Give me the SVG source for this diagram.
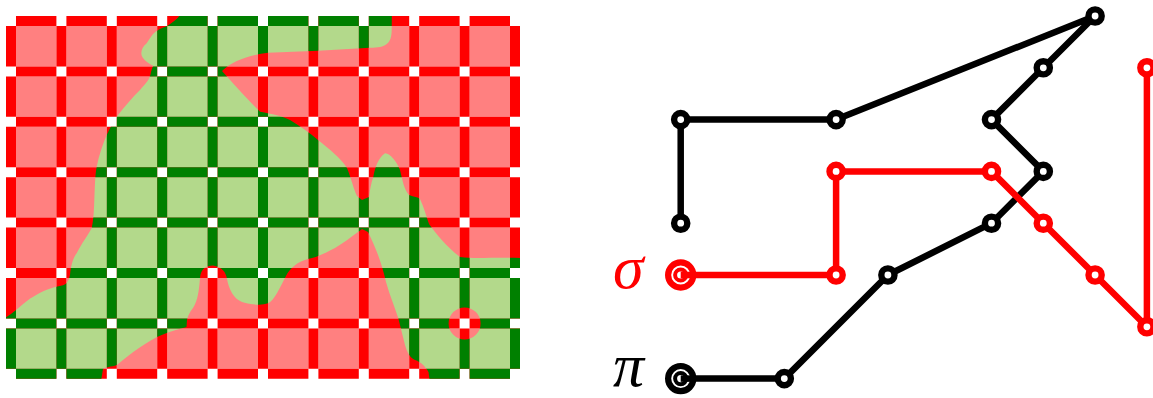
<svg xmlns="http://www.w3.org/2000/svg" xmlns:xlink="http://www.w3.org/1999/xlink" width="1153" height="398" viewBox="0 0 1153 398">
<style>
.f{fill:none;stroke:var(--f);stroke-width:40.4;stroke-dasharray:40.4 10}
.b{fill:none;stroke:var(--b);stroke-width:10;stroke-dasharray:40.4 10}
#redgrid{--f:#ff8080;--b:#ff0000}
#greengrid{--f:#b3d98b;--b:#008000}
.pi{fill:none;stroke:#000;stroke-width:6.5;stroke-linejoin:round}
.sg{fill:none;stroke:#ff0000;stroke-width:6.5;stroke-linejoin:round}
.vk{fill:#fff;stroke:#000;stroke-width:6.4}
.vr{fill:#fff;stroke:#ff0000;stroke-width:6.4}
.ok{fill:#fff;stroke:#000;stroke-width:6.2}
.or{fill:#fff;stroke:#ff0000;stroke-width:6.2}
.ik{fill:none;stroke:#000;stroke-width:4}
.ir{fill:none;stroke:#ff0000;stroke-width:4}
.lbl{font-family:"Liberation Serif","DejaVu Serif",serif;font-style:italic;font-size:62px}
</style>
<defs>
<g id="grid">
<line class="f" x1="16" x2="510" y1="46.2" y2="46.2"/>
<line class="f" x1="16" x2="510" y1="96.6" y2="96.6"/>
<line class="f" x1="16" x2="510" y1="147" y2="147"/>
<line class="f" x1="16" x2="510" y1="197.4" y2="197.4"/>
<line class="f" x1="16" x2="510" y1="247.8" y2="247.8"/>
<line class="f" x1="16" x2="510" y1="298.2" y2="298.2"/>
<line class="f" x1="16" x2="510" y1="348.6" y2="348.6"/>
<line class="b" x1="16" x2="510" y1="21" y2="21"/>
<line class="b" x1="16" x2="510" y1="71.4" y2="71.4"/>
<line class="b" x1="16" x2="510" y1="121.8" y2="121.8"/>
<line class="b" x1="16" x2="510" y1="172.2" y2="172.2"/>
<line class="b" x1="16" x2="510" y1="222.6" y2="222.6"/>
<line class="b" x1="16" x2="510" y1="273" y2="273"/>
<line class="b" x1="16" x2="510" y1="323.4" y2="323.4"/>
<line class="b" x1="16" x2="510" y1="373.8" y2="373.8"/>
<line class="b" y1="26" y2="368.8" x1="11" x2="11"/>
<line class="b" y1="26" y2="368.8" x1="61.4" x2="61.4"/>
<line class="b" y1="26" y2="368.8" x1="111.8" x2="111.8"/>
<line class="b" y1="26" y2="368.8" x1="162.2" x2="162.2"/>
<line class="b" y1="26" y2="368.8" x1="212.6" x2="212.6"/>
<line class="b" y1="26" y2="368.8" x1="263" x2="263"/>
<line class="b" y1="26" y2="368.8" x1="313.4" x2="313.4"/>
<line class="b" y1="26" y2="368.8" x1="363.8" x2="363.8"/>
<line class="b" y1="26" y2="368.8" x1="414.2" x2="414.2"/>
<line class="b" y1="26" y2="368.8" x1="464.6" x2="464.6"/>
<line class="b" y1="26" y2="368.8" x1="515" x2="515"/>
</g>
<clipPath id="blob">
<path clip-rule="evenodd" d="M183,0 L392,0 L391.7,30 C391.5,44 386,47.7 370,47.7 L318,50.7 L268,52.7 C250,55 232,61 222,71 C232,82 248,100 260,111.7 C272,114 283,116 290,120 C300,126 310,133 318,140 C330,150 340,157 347,168 C351,178 354,190 357,196 L362,200 L369,197 C370,190 371,183 373.3,177 C375,168 378,158 385,153.3 C390,153 397,162 400,170 C402,178 404,190 409,195 C414,197 418,197 420,199 C424,207 426,216 429,224 C436,234 448,248 460,257 C475,259 495,257 520,258 L545,258 L545,398 L432,398 L428.5,372 C425,366 421,362 415,360 C410,358 407,352 405,345 L398.3,318.3 C395,308 390,296 386,282 C382,264 376,248 368,232 L362,229 L358,232 C350,238 343,243 335,248 C325,253 318,257 308,259 C297,262 290,268 286,276 C280,287 275,300 268,303.3 C262,305.5 252,305 242,302 C234,299 229,290 227,279 C226,272 222,267 213,265.5 C206,266 201,268 200,278 C199,290 198,300 193,308 C190,312 188,315 187,320 L186.5,327 C180,329 170,331 157,337 C140,346 125,358 117,365 C111,367 105,367 103,369 L101.5,378 L101,398 L-5,398 L-5,325 L8,316 C16,311 25,301 33.3,296.7 C42,291 53,287 62,285.5 C67,284.8 69,280 70,275 C71,265 73,258 76.7,253.3 C82,243 88,235 91.7,228.3 C93.5,220 94,210 94.3,200 C95,185 95,175 96.7,166.7 C99,155 103,144 106.7,135 C110,128 113,122 116.7,116.7 C125,106 133,97 140,90 C145,84 150,80 151,72 C152,68 153,66 153.3,66 C150,64 146,62 143,58 C140,54 141,48 146.7,43.3 C150,38 153,33 157,30.7 C161,28 165,27 167.3,26 C172,23 177,19 179.3,16 L183,0 Z M448.6,323.4 A16,16 0 1,0 480.6,323.4 A16,16 0 1,0 448.6,323.4 Z"/>
</clipPath>
</defs>

<g id="tiling">
<use id="redgrid" href="#grid" xlink:href="#grid"/>
<use id="greengrid" href="#grid" xlink:href="#grid" clip-path="url(#blob)"/>
</g>

<g id="labels">
<text class="lbl" x="613" y="288" fill="#ff0000">σ</text>
<text class="lbl" x="613" y="386" fill="#000">π</text>
</g>

<g id="connectors">
<polyline class="pi" points="680.7,378.6 784.3,378.6 887.9,275 991.5,223.2 1043.3,171.4 991.5,119.6 1043.3,67.8 1095.1,16 836.1,119.6 680.7,119.6 680.7,223.2"/>
<polyline class="sg" points="680.7,275 836.1,275 836.1,171.4 991.5,171.4 1043.3,223.2 1095.1,275 1146.9,326.8 1146.9,67.8"/>
</g>

<g id="pi-start"><circle class="ok" cx="680.7" cy="378.6" r="12.6"/><circle class="ik" cx="680.7" cy="378.6" r="5.6"/><line x1="680.7" y1="378.6" x2="694" y2="378.6" stroke="#000" stroke-width="6.5"/></g>
<g id="pi-1"><circle class="vk" cx="784.3" cy="378.6" r="6.6"/></g>
<g id="pi-2"><circle class="vk" cx="887.9" cy="275" r="6.6"/></g>
<g id="pi-3"><circle class="vk" cx="991.5" cy="223.2" r="6.6"/></g>
<g id="pi-4"><circle class="vk" cx="1043.3" cy="171.4" r="6.6"/></g>
<g id="pi-5"><circle class="vk" cx="991.5" cy="119.6" r="6.6"/></g>
<g id="pi-6"><circle class="vk" cx="1043.3" cy="67.8" r="6.6"/></g>
<g id="pi-7"><circle class="vk" cx="1095.1" cy="16" r="6.6"/></g>
<g id="pi-8"><circle class="vk" cx="836.1" cy="119.6" r="6.6"/></g>
<g id="pi-9"><circle class="vk" cx="680.7" cy="119.6" r="6.6"/></g>
<g id="pi-end"><circle class="vk" cx="680.7" cy="223.2" r="6.6"/></g>

<g id="sigma-start"><circle class="or" cx="680.7" cy="275" r="12.6"/><circle class="ir" cx="680.7" cy="275" r="5.6"/><line x1="680.7" y1="275" x2="694" y2="275" stroke="#ff0000" stroke-width="6.5"/></g>
<g id="sigma-1"><circle class="vr" cx="836.1" cy="275" r="6.6"/></g>
<g id="sigma-2"><circle class="vr" cx="836.1" cy="171.4" r="6.6"/></g>
<g id="sigma-3"><circle class="vr" cx="991.5" cy="171.4" r="6.6"/></g>
<g id="sigma-4"><circle class="vr" cx="1043.3" cy="223.2" r="6.6"/></g>
<g id="sigma-5"><circle class="vr" cx="1095.1" cy="275" r="6.6"/></g>
<g id="sigma-6"><circle class="vr" cx="1146.9" cy="326.8" r="6.6"/></g>
<g id="sigma-end"><circle class="vr" cx="1146.9" cy="67.8" r="6.6"/></g>
</svg>
